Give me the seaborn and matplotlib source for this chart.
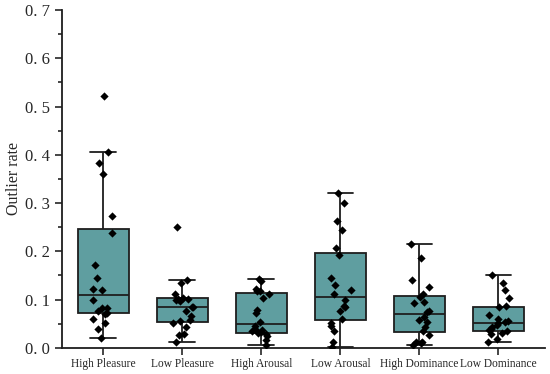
# --- Import libraries ---
import numpy as np
import pandas as pd
import matplotlib
matplotlib.use("Agg")
import matplotlib.pyplot as plt
import seaborn as sns
from matplotlib.ticker import MultipleLocator, FuncFormatter

# --- Data (outlier rate per participant) ---
categories = ["High Pleasure", "Low Pleasure", "High Arousal",
              "Low Arousal", "High Dominance", "Low Dominance"]

high_pleasure = [0.522, 0.405, 0.384, 0.361, 0.274, 0.238, 0.171, 0.145, 0.122, 0.120,
                 0.100, 0.082, 0.082, 0.077, 0.073, 0.070, 0.060, 0.051, 0.039, 0.021]
low_pleasure = [0.250, 0.140, 0.134, 0.111, 0.104, 0.102, 0.101, 0.099, 0.097, 0.085,
                0.084, 0.077, 0.066, 0.058, 0.055, 0.052, 0.044, 0.029, 0.026, 0.012]
high_arousal = [0.142, 0.138, 0.122, 0.117, 0.117, 0.112, 0.103, 0.079, 0.073, 0.053,
                0.045, 0.040, 0.036, 0.034, 0.032, 0.030, 0.028, 0.025, 0.017, 0.005]
low_arousal = [0.320, 0.301, 0.262, 0.245, 0.207, 0.193, 0.145, 0.131, 0.120, 0.111,
               0.100, 0.086, 0.084, 0.077, 0.059, 0.052, 0.046, 0.034, 0.012, 0.001]
high_dominance = [0.216, 0.187, 0.140, 0.127, 0.112, 0.106, 0.095, 0.093, 0.077, 0.075,
                  0.064, 0.057, 0.053, 0.043, 0.034, 0.026, 0.013, 0.012, 0.010, 0.005]
low_dominance = [0.151, 0.135, 0.120, 0.104, 0.086, 0.084, 0.069, 0.060, 0.055, 0.053,
                 0.051, 0.047, 0.044, 0.040, 0.036, 0.034, 0.030, 0.028, 0.019, 0.012]

groups = [high_pleasure, low_pleasure, high_arousal, low_arousal, high_dominance, low_dominance]
df = pd.DataFrame({
    "condition": np.repeat(categories, [len(g) for g in groups]),
    "rate": np.concatenate(groups),
})

# --- Style ---
sns.set_style("ticks")
plt.rcParams["font.family"] = ["Liberation Serif", "DejaVu Serif"]

fig = plt.figure(figsize=(5.5, 3.74), dpi=100)
ax = fig.add_axes([0.113, 0.07, 0.878, 0.903])

line_kw = dict(color="#1e1e1e", linewidth=1.3)
sns.boxplot(data=df, x="condition", y="rate", order=categories, ax=ax,
            color="#5f9ea0", saturation=1, width=0.65, showfliers=False,
            boxprops=dict(edgecolor="#1e1e1e", linewidth=1.3),
            whiskerprops=line_kw, capprops=line_kw, medianprops=line_kw)

np.random.seed(3)
sns.stripplot(data=df, x="condition", y="rate", order=categories, ax=ax,
              color="black", marker="D", size=4.2, jitter=0.14, linewidth=0)

# --- Axes ---
ax.set_ylim(0, 0.7)
ax.set_xlim(-0.52, 5.59)
ax.yaxis.set_major_locator(MultipleLocator(0.1))
ax.yaxis.set_minor_locator(MultipleLocator(0.05))
ax.yaxis.set_major_formatter(FuncFormatter(lambda v, p: f"{v:.1f}".replace(".", ". ")))
ax.tick_params(axis="y", which="major", length=5, width=1.2, labelsize=12, pad=4)
ax.tick_params(axis="y", which="minor", length=3, width=1.2)
ax.tick_params(axis="x", length=5, width=1.2, labelsize=8.3, pad=2)
for s in ["top", "right"]:
    ax.spines[s].set_visible(False)
for s in ["left", "bottom"]:
    ax.spines[s].set_linewidth(1.3)
    ax.spines[s].set_color("#1e1e1e")

ax.set_xlabel("")
ax.set_ylabel("Outlier rate", fontsize=11.5)
ax.yaxis.set_label_coords(-0.083, 0.5)

fig.savefig("out.png", dpi=100)
